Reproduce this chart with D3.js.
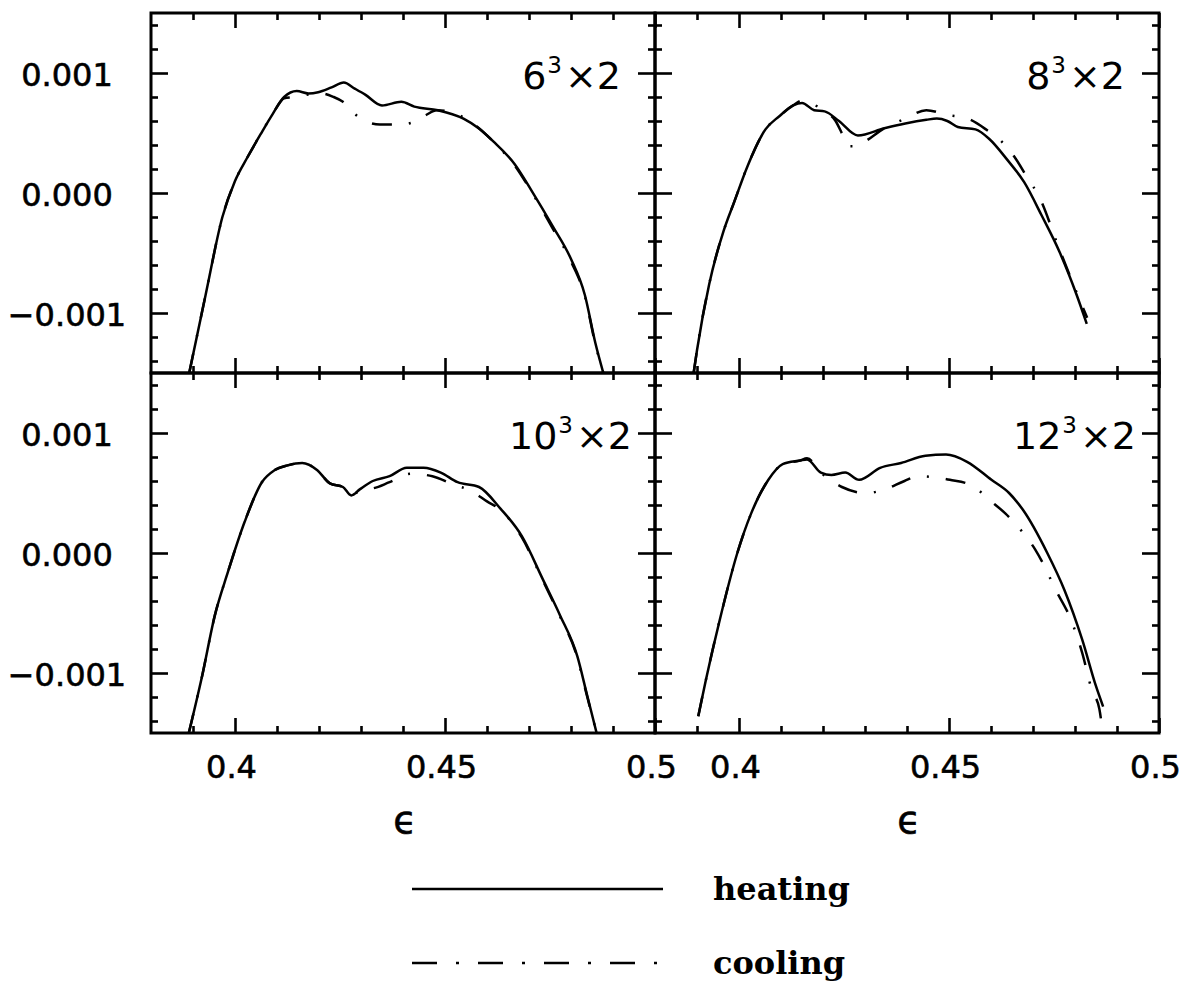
<!DOCTYPE html>
<html>
<head>
<meta charset="utf-8">
<script src="https://cdn.jsdelivr.net/npm/d3@7"></script>
<style>
  html, body { margin: 0; padding: 0; background: #fff; }
  svg { display: block; }
</style>
</head>
<body>
<div id="chart"></div>
<script>
// ---------------- data ----------------
const panelNames = ["6", "8", "10", "12"];
const seriesNames = ["heating", "cooling"];
const xTicksMajor = [0.4, 0.45, 0.5];
const xTickLabels = ["0.4", "0.45", "0.5"];
const xTicksMinor = [0.39, 0.41, 0.42, 0.43, 0.44, 0.46, 0.47, 0.48, 0.49];
const yTicksMajor = [-0.001, 0.000, 0.001];
const yTickLabels = ["\u22120.001", "0.000", "0.001"];
const yTicksMinor = [-0.0014, -0.0012, -0.0008, -0.0006, -0.0004, -0.0002, 0.0002, 0.0004, 0.0006, 0.0008, 0.0012, 0.0014];

// 6^3 x 2
const heat6 = [[0.3891,-0.0015],[0.3930,-0.00085],[0.3970,-0.00020],[0.4000,0.00010],[0.4030,0.00030],[0.4061,0.00049],[0.4090,0.00066],[0.4117,0.00080],[0.4147,0.00085],[0.4175,0.00083],[0.4198,0.00084],[0.4230,0.00088],[0.4259,0.00092],[0.4285,0.00087],[0.4310,0.00082],[0.4350,0.00073],[0.4396,0.00076],[0.4427,0.00072],[0.4483,0.00069],[0.4544,0.00062],[0.4580,0.00054],[0.4615,0.00043],[0.4666,0.00024],[0.4706,0.00002],[0.4757,-0.00028],[0.4800,-0.00055],[0.4833,-0.00085],[0.4858,-0.00125],[0.4877,-0.0015]];
const cool6 = [[0.3891,-0.0015],[0.3930,-0.00085],[0.3970,-0.00020],[0.4000,0.00010],[0.4030,0.00030],[0.4061,0.00049],[0.4090,0.00066],[0.4117,0.00079],[0.4140,0.00080],[0.4175,0.00082],[0.4205,0.00083],[0.4235,0.00080],[0.4257,0.00076],[0.4285,0.00066],[0.4310,0.00060],[0.4345,0.00057],[0.4391,0.00057],[0.4425,0.00059],[0.4455,0.00065],[0.4480,0.00069],[0.4544,0.00063],[0.4600,0.00048],[0.4620,0.00041],[0.4666,0.00023],[0.4706,0.00001],[0.4757,-0.00030],[0.4800,-0.00057],[0.4833,-0.00086],[0.4858,-0.00126],[0.4877,-0.0015]];

// 8^3 x 2
const heat8 = [[0.3892,-0.0015],[0.3900,-0.00131],[0.3929,-0.00076],[0.3963,-0.00032],[0.3988,-0.00008],[0.4021,0.00023],[0.4063,0.00053],[0.4096,0.00064],[0.4129,0.00073],[0.4150,0.00075],[0.4179,0.00069],[0.4204,0.00068],[0.4238,0.00060],[0.4283,0.00048],[0.4346,0.00054],[0.4396,0.00058],[0.4446,0.00061],[0.4471,0.00062],[0.4496,0.00060],[0.4521,0.00055],[0.4563,0.00053],[0.4596,0.00045],[0.4638,0.00028],[0.4679,0.00009],[0.4721,-0.00019],[0.4763,-0.00049],[0.4804,-0.00085],[0.4828,-0.00109]];
const cool8 = [[0.3892,-0.0015],[0.3900,-0.00131],[0.3929,-0.00076],[0.3963,-0.00032],[0.3988,-0.00008],[0.4021,0.00023],[0.4063,0.00053],[0.4096,0.00064],[0.4129,0.00073],[0.4150,0.00077],[0.4170,0.00075],[0.4204,0.00068],[0.4230,0.00060],[0.4246,0.00049],[0.4260,0.00039],[0.4280,0.00039],[0.4296,0.00042],[0.4346,0.00054],[0.4396,0.00062],[0.4446,0.00069],[0.4496,0.00065],[0.4544,0.00062],[0.4588,0.00053],[0.4625,0.00043],[0.4658,0.00029],[0.4688,0.00012],[0.4713,-0.00002],[0.4763,-0.00047],[0.4804,-0.00083],[0.4829,-0.00104]];

// 10^3 x 2
const heat10 = [[0.3890,-0.0015],[0.3922,-0.00102],[0.3952,-0.00052],[0.3983,-0.00016],[0.4023,0.00026],[0.4064,0.00059],[0.4094,0.00069],[0.4125,0.00073],[0.4160,0.00075],[0.4196,0.00069],[0.4226,0.00058],[0.4257,0.00055],[0.4277,0.00048],[0.4297,0.00053],[0.4328,0.00060],[0.4368,0.00064],[0.4409,0.00071],[0.4449,0.00071],[0.4490,0.00067],[0.4530,0.00059],[0.4581,0.00055],[0.4632,0.00037],[0.4683,0.00014],[0.4733,-0.00022],[0.4774,-0.00052],[0.4815,-0.00086],[0.4838,-0.00118],[0.4861,-0.0015]];
const cool10 = [[0.3890,-0.0015],[0.3922,-0.00102],[0.3952,-0.00052],[0.3983,-0.00016],[0.4023,0.00026],[0.4064,0.00059],[0.4094,0.00069],[0.4125,0.00073],[0.4160,0.00075],[0.4196,0.00069],[0.4226,0.00058],[0.4257,0.00055],[0.4277,0.00049],[0.4307,0.00053],[0.4330,0.00054],[0.4368,0.00059],[0.4419,0.00066],[0.4470,0.00064],[0.4520,0.00057],[0.4561,0.00052],[0.4600,0.00043],[0.4632,0.00036],[0.4683,0.00013],[0.4733,-0.00023],[0.4774,-0.00053],[0.4815,-0.00087],[0.4838,-0.00119],[0.4861,-0.0015]];

// 12^3 x 2
const heat12 = [[0.3903,-0.00136],[0.3921,-0.00106],[0.3954,-0.00056],[0.3996,0.00000],[0.4029,0.00033],[0.4070,0.00061],[0.4104,0.00074],[0.4145,0.00077],[0.4162,0.00078],[0.4195,0.00067],[0.4220,0.00065],[0.4253,0.00067],[0.4286,0.00061],[0.4336,0.00071],[0.4386,0.00075],[0.4444,0.00081],[0.4493,0.00082],[0.4543,0.00076],[0.4601,0.00061],[0.4643,0.00050],[0.4676,0.00036],[0.4734,0.00000],[0.4775,-0.00031],[0.4817,-0.00072],[0.4850,-0.00111],[0.4867,-0.00128]];
const cool12 = [[0.3903,-0.00136],[0.3921,-0.00106],[0.3954,-0.00056],[0.3996,0.00000],[0.4029,0.00033],[0.4070,0.00061],[0.4104,0.00074],[0.4145,0.00077],[0.4162,0.00079],[0.4195,0.00067],[0.4245,0.00055],[0.4301,0.00050],[0.4348,0.00053],[0.4394,0.00060],[0.4427,0.00064],[0.4468,0.00063],[0.4502,0.00061],[0.4556,0.00056],[0.4597,0.00044],[0.4634,0.00033],[0.4676,0.00017],[0.4705,0.00003],[0.4730,-0.00013],[0.4750,-0.00028],[0.4792,-0.00057],[0.4817,-0.00083],[0.4840,-0.00114],[0.4858,-0.00130],[0.4866,-0.0015]];

const heatSeries = [heat6, heat8, heat10, heat12];
const coolSeries = [cool6, cool8, cool10, cool12];

// ---------------- layout ----------------
const W = 1183, H = 981;
const padLeft = 151, padTop = 13, pw = 504, ph = 360;
const dash = "20 17 2 17";

const svg = d3.select("#chart").append("svg")
  .attr("width", W).attr("height", H)
  .attr("viewBox", `0 0 ${W} ${H}`);
svg.append("rect").attr("width", W).attr("height", H).attr("fill", "#fff");

const x = d3.scaleLinear().domain([0.38, 0.5]).range([0, pw]);
const y = d3.scaleLinear().domain([-0.0015, 0.0015]).range([ph, 0]);
const line = d3.line().x(d => x(d[0])).y(d => y(d[1])).curve(d3.curveMonotoneX);

svg.append("defs").append("clipPath").attr("id", "clip")
  .append("rect").attr("x", 0).attr("y", 0).attr("width", pw).attr("height", ph);

function styleAxis(g) {
  g.select(".domain").remove();
  g.selectAll(".tick line").attr("stroke", "#000").attr("stroke-width", 2.6);
}
function styleLabel(sel, size) {
  sel.attr("font-family", "DejaVu Sans").attr("font-size", size)
    .attr("fill", "#000").attr("stroke", "#000").attr("stroke-width", 0.6);
}

panelNames.forEach((name, i) => {
  const col = i % 2, row = Math.floor(i / 2);
  const g = svg.append("g").attr("transform", `translate(${padLeft + col * pw},${padTop + row * ph})`);

  // ticks (inward, all four sides)
  const mk = (axisFn, scale, vals, size) => axisFn(scale).tickValues(vals).tickSize(size).tickFormat("");
  g.append("g").attr("transform", `translate(0,${ph})`).call(mk(d3.axisBottom, x, xTicksMajor, -15)).call(styleAxis);
  g.append("g").attr("transform", `translate(0,${ph})`).call(mk(d3.axisBottom, x, xTicksMinor, -7)).call(styleAxis);
  g.append("g").call(mk(d3.axisTop, x, xTicksMajor, -15)).call(styleAxis);
  g.append("g").call(mk(d3.axisTop, x, xTicksMinor, -7)).call(styleAxis);
  g.append("g").call(mk(d3.axisLeft, y, yTicksMajor, -17)).call(styleAxis);
  g.append("g").call(mk(d3.axisLeft, y, yTicksMinor, -7)).call(styleAxis);
  g.append("g").attr("transform", `translate(${pw},0)`).call(mk(d3.axisRight, y, yTicksMajor, -17)).call(styleAxis);
  g.append("g").attr("transform", `translate(${pw},0)`).call(mk(d3.axisRight, y, yTicksMinor, -7)).call(styleAxis);

  // y labels on left column
  if (col === 0) {
    const ya = d3.axisLeft(y).tickValues(yTicksMajor).tickSize(0)
      .tickFormat((d, k) => yTickLabels[k]);
    const gy = g.append("g").call(ya);
    gy.select(".domain").remove();
    gy.selectAll(".tick text")
      .attr("x", 67 - padLeft).attr("dy", "0.38em")
      .attr("text-anchor", "middle")
      .call(styleLabel, 32);
  }
  // x labels on bottom row
  if (row === 1) {
    const xa = d3.axisBottom(x).tickValues(xTicksMajor).tickSize(0)
      .tickFormat((d, k) => xTickLabels[k]);
    const gx = g.append("g").attr("transform", `translate(0,${ph})`).call(xa);
    gx.select(".domain").remove();
    gx.selectAll(".tick text")
      .attr("y", 45).attr("dy", 0).attr("dx", -4)
      .call(styleLabel, 32);
    g.append("text")
      .attr("x", pw / 2 + 2).attr("y", ph + 100)
      .attr("text-anchor", "middle")
      .call(styleLabel, 38)
      .text("\u03F5");
  }

  // curves
  const cg = g.append("g").attr("clip-path", "url(#clip)");
  cg.append("path").datum(coolSeries[i]).attr("d", line)
    .attr("fill", "none").attr("stroke", "#000").attr("stroke-width", 2.5)
    .attr("stroke-dasharray", dash);
  cg.append("path").datum(heatSeries[i]).attr("d", line)
    .attr("fill", "none").attr("stroke", "#000").attr("stroke-width", 2.5)
    .attr("stroke-linejoin", "round");

  // panel label
  const rightOff = row === 0 ? 34 : 23;
  const t = g.append("text")
    .attr("x", pw - rightOff).attr("y", 76)
    .attr("text-anchor", "end")
    .attr("font-family", "DejaVu Sans").attr("font-size", 38).attr("fill", "#000");
  t.append("tspan").text(name);
  t.append("tspan").attr("dy", -16).attr("dx", 1).attr("font-size", 23).text("3");
  t.append("tspan").attr("dy", 16).attr("dx", 3).text("\u00D72");

  // frame
  g.append("rect").attr("width", pw).attr("height", ph)
    .attr("fill", "none").attr("stroke", "#000").attr("stroke-width", 3);
});

// ---------------- legend ----------------
const legY = [889, 963];
const legG = svg.append("g");
seriesNames.forEach((s, k) => {
  legG.append("line")
    .attr("x1", 412).attr("x2", 663).attr("y1", legY[k]).attr("y2", legY[k])
    .attr("stroke", "#000").attr("stroke-width", 2.6)
    .attr("stroke-dasharray", k === 1 ? "25 19 3 19" : null);
  legG.append("text")
    .attr("x", 713).attr("y", legY[k] + 11)
    .attr("font-family", "DejaVu Serif").attr("font-weight", "bold").attr("font-size", 32)
    .attr("fill", "#000")
    .text(s);
});
</script>
</body>
</html>
